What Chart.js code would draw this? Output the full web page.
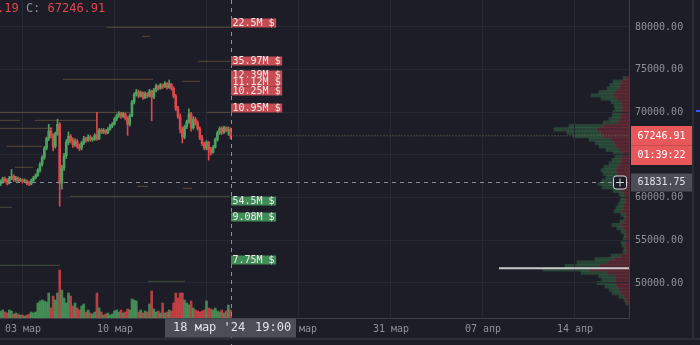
<!DOCTYPE html>
<html>
<head>
<meta charset="utf-8">
<script src="https://cdn.jsdelivr.net/npm/chart.js@4.4.1/dist/chart.umd.min.js"></script>
<style>
  html, body { margin: 0; padding: 0; background: #1c1d26; }
  #wrap { position: relative; width: 700px; height: 345px; overflow: hidden; }
  #wrap canvas { position: absolute; left: 0; top: 0; }
</style>
</head>
<body>
<div id="wrap">
  <canvas id="profile" width="700" height="345"></canvas>
  <canvas id="main" width="700" height="345"></canvas>
</div>
<script>
// 4h candles, days counted from 1 March 00:00 (local time)
const firstCandleDay = 7 / 24;
const candleStepDays = 4 / 24;

const opens = [61600,61900,62200,62000,61700,62300,62500,62100,62300,62000,
  62100,61900,62000,61700,61600,62000,62300,62600,63200,63900,
  64700,65800,66900,67800,67300,66000,67500,68600,61700,63500,
  64900,66500,67200,66700,66200,66600,66000,65800,66400,66900,
  66700,67100,66800,66900,67300,66900,67900,67700,67900,67600,
  68000,68400,68600,69200,69600,69900,69500,69800,69300,68600,
  69600,71200,72100,72400,71900,72300,71700,72200,71900,72500,
  71800,72600,73100,72800,73200,73000,73400,72900,73300,72800,
  71900,70400,69500,68000,67100,68300,68900,69800,68200,69200,
  68700,68100,67000,66300,65800,66500,65600,65300,65900,66800,
  67600,68100,67700,68200,67900,68000];
const highs = [62100,62400,62400,62200,62500,63300,62700,62500,62400,62300,
  62200,62200,62100,61900,62200,62500,62800,63400,64100,64900,
  66000,67100,68600,68200,67500,67700,69200,68800,63800,65200,
  66800,67700,67400,67000,66900,66800,66300,66600,67200,67100,
  67400,67300,67100,67500,70000,68100,68100,68100,68000,68200,
  68600,68800,69400,69800,70100,70000,70000,69900,69500,69800,
  71400,72300,72700,72600,72500,72400,72400,72300,72700,72600,
  72800,73300,73200,73400,73300,73600,73500,73800,73400,73000,
  72100,70700,69800,68300,68500,69100,70400,70000,69500,69400,
  69000,68300,67300,66500,66700,66600,65900,66100,67000,67800,
  68300,68300,68400,68300,68300,68200];
const lows = [61400,61700,61800,61500,61600,62100,61900,61900,61800,61900,
  61700,61800,61500,61400,61500,61900,62200,62500,63000,63700,
  64500,65600,66700,67000,65500,65800,67300,59000,61000,63200,
  64600,66200,66400,65900,66000,65800,65500,65600,66200,66500,
  66600,66600,66600,66700,66700,66800,67500,67500,67400,67500,
  67900,68200,68500,69000,69400,69300,69400,69100,67300,68400,
  69500,71000,71900,71700,71800,71500,71600,71700,71800,69000,
  71600,72400,72600,72700,72800,72900,72700,72800,72600,71700,
  70200,69300,67600,66400,66900,68100,68700,67800,68000,68500,
  67900,66800,66100,65600,65600,64400,65000,65200,65800,66600,
  67400,67400,67500,67700,67300,66900];
const closes = [61900,62200,62000,61700,62300,62500,62100,62300,62000,62100,
  61900,62000,61700,61600,62000,62300,62600,63200,63900,64700,
  65800,66900,67800,67300,66000,67500,68600,61700,63500,64900,
  66500,67200,66700,66200,66600,66000,65800,66400,66900,66700,
  67100,66800,66900,67300,66900,67900,67700,67900,67600,68000,
  68400,68600,69200,69600,69900,69500,69800,69300,68600,69600,
  71200,72100,72400,71900,72300,71700,72200,71900,72500,71800,
  72600,73100,72800,73200,73000,73400,72900,73300,72800,71900,
  70400,69500,68000,67100,68300,68900,69800,68200,69200,68700,
  68100,67000,66300,65800,66500,65600,65300,65900,66800,67600,
  68100,67700,68200,67900,68000,67246.91];
const volumes = [1750,2000,1500,1250,2000,1750,1000,1250,1000,750,
  750,500,750,1000,1500,1250,1500,3750,4250,4500,
  4250,4000,6250,2500,5500,4500,6250,12000,7000,5000,
  3750,6250,5500,3000,3750,2500,2000,3000,3500,1500,
  2000,1250,1000,1500,6250,2500,1500,750,1000,1250,
  750,1000,1750,2000,1500,2000,1250,1500,2250,2000,
  4750,4500,4250,1500,2000,1250,1750,1500,3500,6750,
  2250,1500,1750,1250,3750,1250,1500,2000,1750,3750,
  6250,5000,6250,6250,4500,3750,3250,4250,2500,2000,
  1750,1500,1750,2000,4250,2500,2250,2000,2500,1750,
  1500,2000,1250,1750,3250,2000];

// volume profile (price bins, sell part next to the axis, buy part beyond it)
const profilePrices = [47600,48000,48400,48800,49200,49600,50000,50400,50800,51200,
  51600,52000,52400,52800,53200,53600,54000,54400,54800,55200,
  55600,56000,56400,56800,57200,57600,58000,58400,58800,59200,
  59600,60000,60400,60800,61200,61600,62000,62400,62800,63200,
  63600,64000,64400,64800,65200,65600,66000,66400,66800,67200,
  67600,68000,68400,68800,69200,69600,70000,70400,70800,71200,
  71600,72000,72400,72800,73200,73600,74000];
const profileSell = [2,3,5,8,10,12,14,13,14,22,
  40,30,22,15,8,3,3,4,4,3,
  3,4,6,8,5,3,4,7,6,5,
  4,4,5,7,12,14,12,10,12,13,
  11,9,8,7,7,10,13,15,18,26,
  28,32,26,12,9,8,8,7,7,8,
  12,16,14,10,9,7,3];
const profileBuy = [1,2,5,9,10,12,18,14,16,26,
  46,34,30,19,10,3,2,3,4,3,
  2,4,6,9,4,2,4,8,7,6,
  5,4,5,9,15,17,15,13,14,15,
  14,11,9,7,9,13,17,19,22,30,
  34,43,34,14,11,9,8,7,8,10,
  16,22,16,12,10,9,3];
const pocPrice = 51720;
const pocFromDay = 38.22;

// order-book levels: price, from day, to day
const askLevelPrices = [79961,78906,75977,73867,73633,70000,70000,69063,69063,68125,66016,63555,61328,61094];
const askLevelFrom = [8.39,11.05,15.31,5.04,14.10,0.25,16.00,0.25,2.91,0.25,0.78,1.39,10.67,14.17];
const askLevelTo = [17.75,11.66,17.75,11.89,15.47,10.14,17.75,1.77,7.63,4.28,3.45,2.76,11.51,14.86];
const bidLevelPrices = [60156,58867,52070,50195];
const bidLevelFrom = [5.58,0.25,0.25,11.51];
const bidLevelTo = [17.75,1.16,4.82,14.33];

const levelLabelPrices = [80430,75977,74336,73516,72461,70469,59570,57695,52656];
const levelLabelTexts = ['22.5M $','35.97M $','12.39M $','11.12M $','10.25M $','10.95M $','54.5M $','9.08M $','7.75M $'];
const levelLabelSides = ['ask','ask','ask','ask','ask','ask','bid','bid','bid'];

const xTickDays = [2, 9, 16, 23, 30, 37, 44];
const xTickLabels = ['03 мар', '10 мар', '17 мар', '24 мар', '31 мар', '07 апр', '14 апр'];
const yTicks = [50000, 55000, 60000, 65000, 70000, 75000, 80000];

const lastPrice = 67246.91;
const countdown = '01:39:22';
const crossPrice = 61831.75;
const crossTimeLabel = ['18 мар \'24', '19:00'];

const xMin = 0.25, xMax = 48.11;
const yMin = 45898, yMax = 83164;
const mono = "'DejaVu Sans Mono', monospace";
const upColor = '#4ca35e', downColor = '#e0474c';
const gridColor = '#272934', axisColor = '#3d404b', tickColor = '#8f929b';

const candleDays = closes.map((c, i) => firstCandleDay + i * candleStepDays);
const candleColors = closes.map((c, i) => c >= opens[i] ? upColor : downColor);
const volColors = closes.map((c, i) => c >= opens[i] ? 'rgba(76,163,94,0.8)' : 'rgba(224,71,76,0.8)');
const lastDay = candleDays[candleDays.length - 1];

function segments(prices, from, to) {
  const pts = [];
  prices.forEach((p, i) => {
    pts.push({ x: from[i], y: p }, { x: to[i], y: p }, { x: to[i], y: null });
  });
  return pts;
}

// same plot area in both charts: 629 x 318
const fixW = s => { s.width = 71; s.paddingTop = 0; s.paddingBottom = 0; };
const fixH = s => { s.height = 27; s.paddingLeft = 0; s.paddingRight = 0; };

// volume profile, drawn underneath
new Chart(document.getElementById('profile'), {
  type: 'bar',
  data: {
    datasets: [
      { label: 'sell', data: profilePrices.map((p, i) => ({ x: profileSell[i], y: p })),
        backgroundColor: 'rgba(150,52,64,0.42)', categoryPercentage: 1, barPercentage: 1 },
      { label: 'buy', data: profilePrices.map((p, i) => ({ x: profileBuy[i], y: p })),
        backgroundColor: 'rgba(58,125,78,0.42)', categoryPercentage: 1, barPercentage: 1 }
    ]
  },
  options: {
    indexAxis: 'y',
    responsive: false,
    animation: false,
    layout: { padding: 0 },
    plugins: { legend: { display: false }, tooltip: { enabled: false } },
    scales: {
      y: { type: 'linear', position: 'right', min: yMin, max: yMax, stacked: true, offset: false,
        grid: { display: false, offset: false }, border: { display: false }, ticks: { display: false }, afterFit: fixW },
      x: { type: 'linear', reverse: true, min: 0, max: 629, stacked: true,
        grid: { display: false }, border: { display: false }, ticks: { display: false }, afterFit: fixH }
    }
  }
});

const decor = {
  id: 'decor',
  afterDraw(chart) {
    const { ctx, chartArea: a, scales: { x, y } } = chart;
    ctx.save();
    // top legend
    ctx.font = '12px ' + mono;
    ctx.textBaseline = 'middle';
    ctx.fillStyle = '#e0474c'; ctx.fillText('.19', -3, 9);
    ctx.fillStyle = '#8f929b'; ctx.fillText('C:', 25.9, 9);
    ctx.fillStyle = '#e0474c'; ctx.fillText(lastPrice.toFixed(2), 47.5, 9);

    // crosshair
    const cx = Math.round(x.getPixelForValue(lastDay)) + 0.5;
    const cy = Math.round(y.getPixelForValue(crossPrice)) + 0.5;
    ctx.strokeStyle = '#8c8f99'; ctx.lineWidth = 1; ctx.setLineDash([4, 4]);
    ctx.beginPath(); ctx.moveTo(cx, 0); ctx.lineTo(cx, 345); ctx.stroke();
    ctx.beginPath(); ctx.moveTo(0, cy); ctx.lineTo(a.right, cy); ctx.stroke();
    ctx.setLineDash([]);

    // level labels
    ctx.font = '10px ' + mono;
    levelLabelPrices.forEach((p, i) => {
      const py = Math.round(y.getPixelForValue(p));
      const w = ctx.measureText(levelLabelTexts[i]).width + 3;
      ctx.fillStyle = levelLabelSides[i] === 'ask' ? 'rgb(196,76,82)' : 'rgb(64,140,86)';
      ctx.fillRect(cx - 0.5, py - 4.5, w, 9);
      ctx.fillStyle = '#efe9e9';
      ctx.fillText(levelLabelTexts[i], cx + 1, py + 0.5);
    });

    // last price + countdown
    ctx.textAlign = 'center';
    const py = Math.round(y.getPixelForValue(lastPrice));
    ctx.fillStyle = '#e8585a';
    ctx.fillRect(631, py - 10, 61, 39);
    ctx.fillStyle = '#c84a4c';
    ctx.fillRect(631, py + 9, 61, 1);
    ctx.fillStyle = '#ffffff';
    ctx.fillText(lastPrice.toFixed(2), 661.5, py);
    ctx.fillText(countdown, 661.5, py + 19);

    // crosshair price
    ctx.fillStyle = '#4b4d57';
    ctx.fillRect(631, cy - 9, 61, 18);
    ctx.fillStyle = '#e1e3e8';
    ctx.fillText(crossPrice.toFixed(2), 661.5, cy);

    // plus icon
    ctx.strokeStyle = '#d1d4dc'; ctx.fillStyle = '#1c1d26';
    ctx.beginPath(); ctx.roundRect(613.5, cy - 6.5, 13, 13, 2.5); ctx.fill(); ctx.stroke();
    ctx.beginPath();
    ctx.moveTo(616, cy); ctx.lineTo(624, cy);
    ctx.moveTo(620, cy - 4); ctx.lineTo(620, cy + 4);
    ctx.stroke();

    // crosshair time label
    ctx.fillStyle = '#4b4d57';
    ctx.fillRect(165, a.bottom + 0.5, 131, 19);
    ctx.font = '12px ' + mono;
    ctx.textAlign = 'left';
    ctx.fillStyle = '#e1e3e8';
    ctx.fillText(crossTimeLabel[0], 173, a.bottom + 10);
    ctx.fillText(crossTimeLabel[1], 255, a.bottom + 10);

    // frame and alert mark
    ctx.fillStyle = '#2a2c36';
    ctx.fillRect(0, 338, 700, 2);
    ctx.fillRect(692, 0, 2, 338);
    ctx.fillStyle = '#2962ff';
    ctx.fillRect(696, 110, 4, 2);
    ctx.restore();
  }
};

new Chart(document.getElementById('main'), {
  type: 'bar',
  data: {
    datasets: [
      { label: 'bodies', data: candleDays.map((d, i) => ({ x: d, y: [opens[i], closes[i]] })),
        backgroundColor: candleColors, barThickness: 2, grouped: false, order: 1 },
      { label: 'wicks', data: candleDays.map((d, i) => ({ x: d, y: [lows[i], highs[i]] })),
        backgroundColor: candleColors, barThickness: 1, grouped: false, order: 2 },
      { label: 'volume', yAxisID: 'yv', data: candleDays.map((d, i) => ({ x: d, y: volumes[i] })),
        backgroundColor: volColors, barThickness: 2, grouped: false, order: 3 },
      { type: 'line', label: 'ask levels', data: segments(askLevelPrices, askLevelFrom, askLevelTo),
        borderColor: 'rgba(150,115,65,0.5)', borderWidth: 1, pointRadius: 0, spanGaps: false, order: 8 },
      { type: 'line', label: 'bid levels', data: segments(bidLevelPrices, bidLevelFrom, bidLevelTo),
        borderColor: 'rgba(110,140,75,0.45)', borderWidth: 1, pointRadius: 0, spanGaps: false, order: 8 },
      { type: 'line', label: 'last price', data: [{ x: lastDay, y: lastPrice }, { x: xMax, y: lastPrice }],
        borderColor: 'rgba(150,150,110,0.75)', borderWidth: 1, borderDash: [1, 2], pointRadius: 0, order: 6 },
      { type: 'line', label: 'poc', data: [{ x: pocFromDay, y: pocPrice }, { x: xMax, y: pocPrice }],
        borderColor: '#c9c9c9', borderWidth: 2, pointRadius: 0, order: 5 }
    ]
  },
  options: {
    responsive: false,
    animation: false,
    layout: { padding: 0 },
    plugins: { legend: { display: false }, tooltip: { enabled: false } },
    scales: {
      x: {
        type: 'linear', min: xMin, max: xMax, offset: false,
        grid: { color: gridColor, drawTicks: false, offset: false },
        border: { color: axisColor },
        ticks: { color: tickColor, font: { family: mono, size: 10 }, padding: 5, maxRotation: 0, autoSkip: false,
          callback: (v, i) => xTickLabels[i] },
        afterBuildTicks: s => { s.ticks = xTickDays.map(v => ({ value: v })); },
        afterFit: fixH
      },
      y: {
        type: 'linear', position: 'right', min: yMin, max: yMax,
        grid: { color: gridColor, drawTicks: false },
        border: { color: axisColor },
        ticks: { color: tickColor, font: { family: mono, size: 10 }, padding: 6, callback: v => v.toFixed(2) },
        afterBuildTicks: s => { s.ticks = yTicks.map(v => ({ value: v })); },
        afterFit: fixW
      },
      yv: { type: 'linear', display: false, min: 0, max: 79500 }
    }
  },
  plugins: [decor]
});
</script>
</body>
</html>
